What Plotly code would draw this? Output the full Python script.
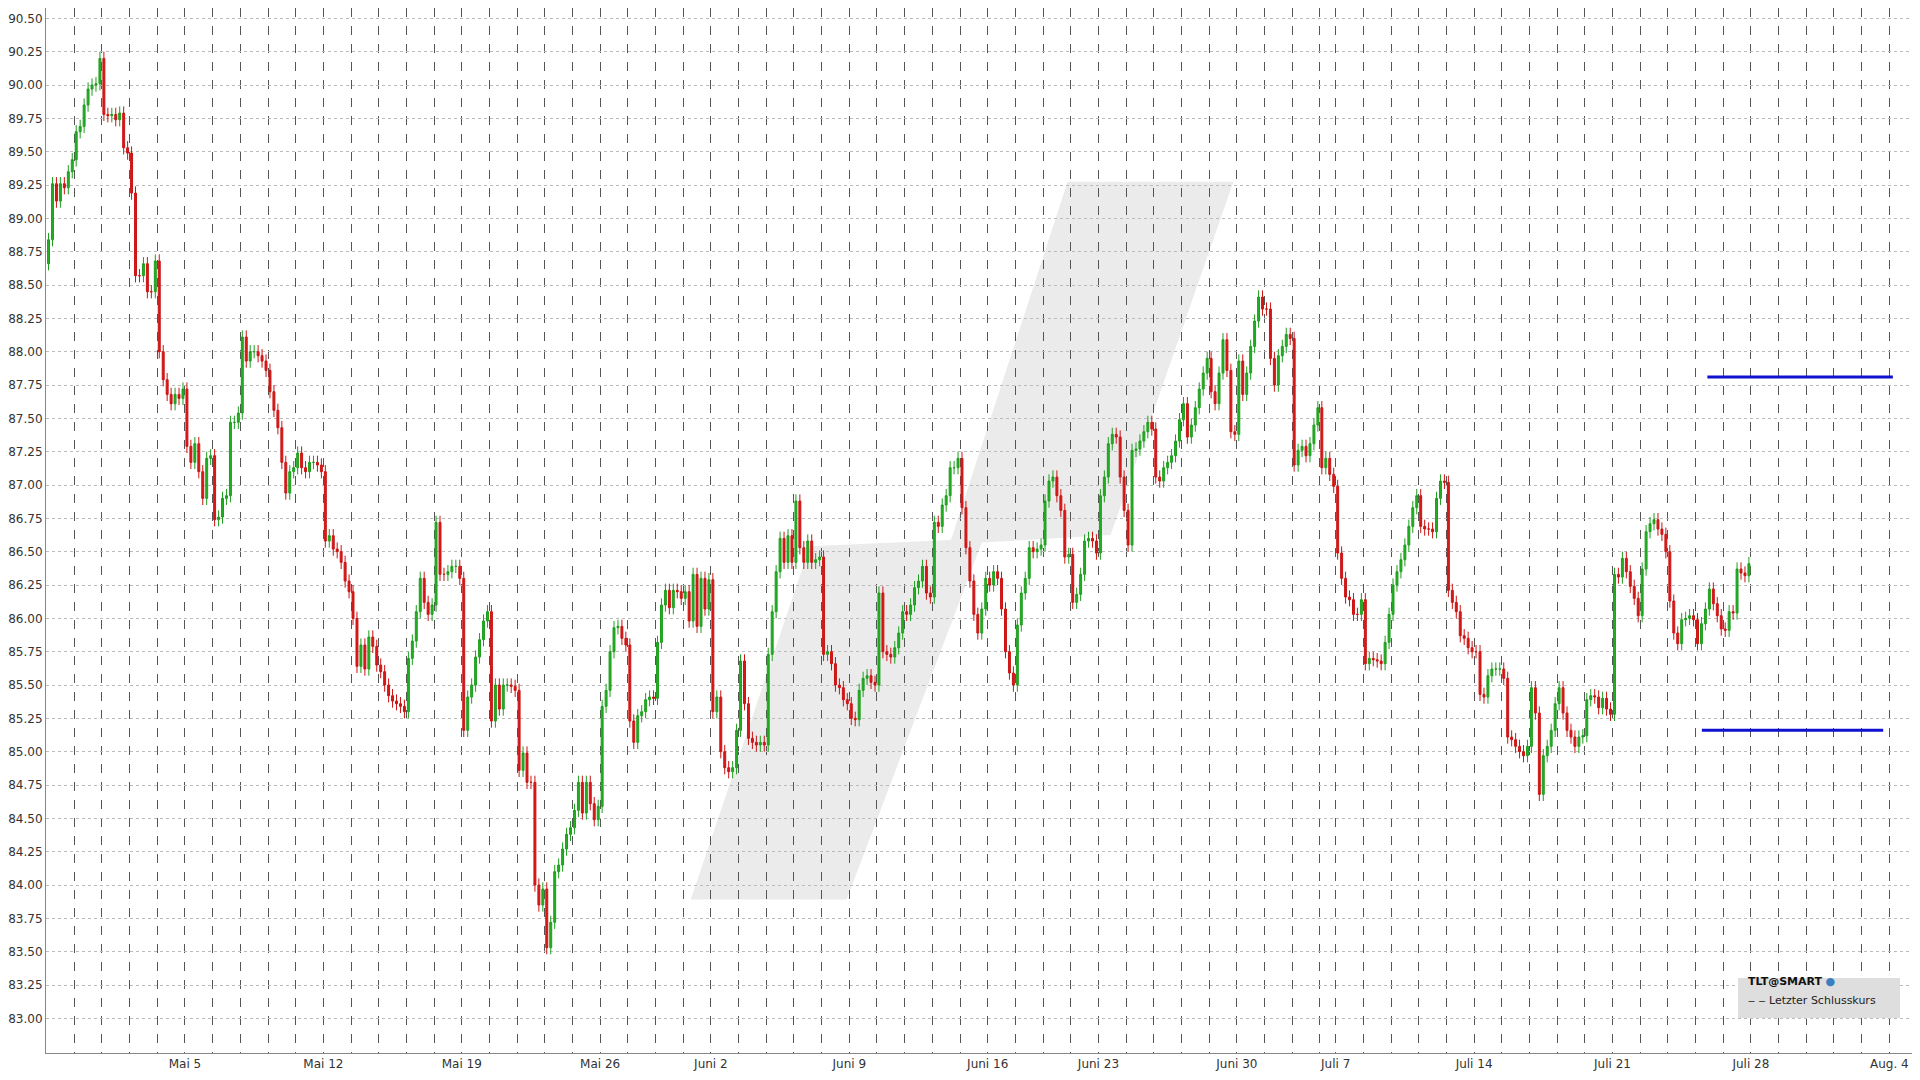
import plotly.graph_objects as go

# trading days shown (hourly bars), closing price of each bar
days = ['Apr 28', 'Apr 29', 'Apr 30', 'Mai 1', 'Mai 2',
        'Mai 5', 'Mai 6', 'Mai 7', 'Mai 8', 'Mai 9',
        'Mai 12', 'Mai 13', 'Mai 14', 'Mai 15', 'Mai 16',
        'Mai 19', 'Mai 20', 'Mai 21', 'Mai 22', 'Mai 23',
        'Mai 27', 'Mai 28', 'Mai 29', 'Mai 30',
        'Juni 2', 'Juni 3', 'Juni 4', 'Juni 5', 'Juni 6',
        'Juni 9', 'Juni 10', 'Juni 11', 'Juni 12', 'Juni 13',
        'Juni 16', 'Juni 17', 'Juni 18', 'Juni 20',
        'Juni 23', 'Juni 24', 'Juni 25', 'Juni 26', 'Juni 27',
        'Juni 30', 'Juli 1', 'Juli 2', 'Juli 3',
        'Juli 7', 'Juli 8', 'Juli 9', 'Juli 10', 'Juli 11',
        'Juli 14', 'Juli 15', 'Juli 16', 'Juli 17', 'Juli 18',
        'Juli 21', 'Juli 22', 'Juli 23', 'Juli 24', 'Juli 25']

closes = [
    [88.84, 89.26, 89.13, 89.26, 89.23, 89.35, 89.44],
    [89.65, 89.69, 89.85, 89.97, 90.00, 90.01, 90.20],
    [89.78, 89.77, 89.78, 89.74, 89.79, 89.53, 89.49],
    [89.19, 88.57, 88.57, 88.66, 88.45, 88.45, 88.68],
    [88.00, 87.79, 87.68, 87.61, 87.68, 87.65, 87.72],
    [87.29, 87.17, 87.31, 87.10, 86.90, 87.20, 87.22],
    [86.74, 86.76, 86.90, 86.92, 87.47, 87.47, 87.54],
    [88.11, 87.93, 88.00, 88.00, 87.97, 87.93, 87.86],
    [87.70, 87.56, 87.43, 87.17, 86.94, 87.10, 87.13],
    [87.24, 87.13, 87.10, 87.17, 87.17, 87.15, 87.10],
    [86.58, 86.62, 86.52, 86.50, 86.42, 86.28, 86.20],
    [86.00, 85.64, 85.80, 85.62, 85.86, 85.79, 85.65],
    [85.60, 85.50, 85.42, 85.38, 85.36, 85.34, 85.30],
    [85.70, 85.83, 86.05, 86.30, 86.12, 86.03, 86.10],
    [86.72, 86.33, 86.33, 86.35, 86.39, 86.39, 86.30],
    [85.16, 85.41, 85.50, 85.71, 85.84, 85.98, 86.05],
    [85.23, 85.50, 85.32, 85.50, 85.50, 85.49, 85.46],
    [84.86, 84.99, 84.77, 84.77, 84.00, 83.85, 83.97],
    [83.53, 83.72, 84.10, 84.15, 84.27, 84.38, 84.43],
    [84.56, 84.77, 84.54, 84.77, 84.61, 84.49, 84.59],
    [85.34, 85.46, 85.75, 85.93, 85.94, 85.85, 85.80],
    [85.23, 85.07, 85.27, 85.30, 85.39, 85.41, 85.40],
    [85.82, 86.10, 86.21, 86.08, 86.21, 86.20, 86.15],
    [86.20, 85.98, 86.33, 85.94, 86.30, 86.07, 86.29],
    [85.30, 85.41, 85.00, 84.88, 84.85, 84.88, 85.16],
    [85.68, 85.36, 85.10, 85.07, 85.05, 85.07, 85.05],
    [85.73, 86.05, 86.35, 86.60, 86.42, 86.62, 86.42],
    [86.88, 86.53, 86.42, 86.58, 86.42, 86.44, 86.46],
    [85.73, 85.75, 85.66, 85.50, 85.48, 85.39, 85.36],
    [85.25, 85.24, 85.46, 85.55, 85.57, 85.52, 85.50],
    [86.19, 85.75, 85.73, 85.71, 85.78, 85.89, 86.05],
    [86.03, 86.10, 86.23, 86.28, 86.39, 86.19, 86.16],
    [86.72, 86.69, 86.85, 86.92, 87.13, 87.13, 87.20],
    [86.83, 86.53, 86.28, 86.03, 85.89, 86.07, 86.30],
    [86.25, 86.35, 86.30, 86.07, 85.75, 85.59, 85.50],
    [85.95, 86.19, 86.30, 86.53, 86.50, 86.52, 86.55],
    [86.88, 87.03, 87.06, 86.92, 86.81, 86.46, 86.48],
    [86.12, 86.18, 86.33, 86.58, 86.60, 86.58, 86.49],
    [86.92, 87.06, 87.31, 87.38, 87.36, 87.06, 86.81],
    [86.55, 87.26, 87.27, 87.33, 87.40, 87.47, 87.42],
    [87.06, 87.03, 87.13, 87.17, 87.22, 87.33, 87.49],
    [87.61, 87.36, 87.45, 87.58, 87.72, 87.84, 87.95],
    [87.70, 87.61, 87.84, 88.09, 87.86, 87.40, 87.38],
    [87.93, 87.68, 87.84, 88.04, 88.23, 88.41, 88.32],
    [88.32, 87.95, 87.75, 87.97, 88.04, 88.13, 88.10],
    [87.15, 87.26, 87.29, 87.22, 87.31, 87.45, 87.58],
    [87.13, 87.20, 87.08, 86.99],
    [86.49, 86.30, 86.16, 86.14, 86.03, 86.03, 86.14],
    [85.66, 85.70, 85.69, 85.68, 85.66, 85.82, 86.03],
    [86.25, 86.35, 86.44, 86.55, 86.69, 86.83, 86.92],
    [86.69, 86.67, 86.67, 86.65, 86.90, 87.03, 87.02],
    [86.21, 86.12, 86.05, 85.87, 85.85, 85.78, 85.75],
    [85.75, 85.43, 85.41, 85.57, 85.62, 85.62, 85.62],
    [85.55, 85.11, 85.09, 85.04, 85.00, 84.97, 85.04],
    [85.48, 85.29, 84.68, 84.97, 85.04, 85.16, 85.36],
    [85.48, 85.29, 85.16, 85.11, 85.04, 85.11, 85.12],
    [85.39, 85.42, 85.41, 85.33, 85.40, 85.32, 85.28],
    [86.33, 86.31, 86.45, 86.35, 86.24, 86.15, 86.02],
    [86.37, 86.65, 86.71, 86.74, 86.67, 86.63, 86.50],
    [86.13, 85.89, 85.81, 85.99, 86.00, 86.02, 85.99],
    [85.81, 85.96, 86.07, 86.22, 86.11, 86.02, 85.92],
    [85.91, 86.05, 86.04, 86.37, 86.34, 86.32, 86.41],
]
first_open = 88.66
bars_per_day = 7

week_labels = ['Mai 5', 'Mai 12', 'Mai 19', 'Mai 26', 'Juni 2', 'Juni 9', 'Juni 16',
               'Juni 23', 'Juni 30', 'Juli 7', 'Juli 14', 'Juli 21', 'Juli 28', 'Aug. 4']
week_first_day = ['Mai 5', 'Mai 12', 'Mai 19', 'Mai 27', 'Juni 2', 'Juni 9', 'Juni 16',
                  'Juni 23', 'Juni 30', 'Juli 7', 'Juli 14', 'Juli 21', None, None]
future_days = 7  # empty weekdays after the last bar (Juli 28 ... Aug. 5)

# support / resistance levels (blue)
levels = [87.81, 85.16]
level_start = [60.0, 59.8]
level_end = [66.7, 66.35]

# build bar positions (in day units)
x, o, h, l, c = [], [], [], [], []
day_start = []
pos = 0.0
prev = first_open
for d, cl in zip(days, closes):
    day_start.append(pos)
    for i, v in enumerate(cl):
        x.append(pos + (i + 0.5) / bars_per_day)
        o.append(prev)
        c.append(v)
        h.append(max(prev, v) + 0.05)
        l.append(min(prev, v) - 0.05)
        prev = v
    pos += len(cl) / bars_per_day
last_pos = pos
for k in range(future_days):
    day_start.append(last_pos + k)

start_of = dict(zip(days, day_start))
week_pos = []
for lab, d in zip(week_labels, week_first_day):
    if d is None:
        week_pos.append(last_pos + (0 if lab == 'Juli 28' else 5))
    else:
        week_pos.append(start_of[d])

tickvals = list(day_start[1:])
ticktext = []
for tv in tickvals:
    txt = ''
    for wp, lab in zip(week_pos, week_labels):
        if abs(wp - tv) < 1e-6:
            txt = lab
    ticktext.append(txt)

fig = go.Figure()

# background logo watermark (points in reference pixels, 1565-wide picture)
def px(xx, yy):
    return (xx - 37.5) / 1523, 1 - (yy - 6.5) / 851.5

pts = [(563, 733), (660, 445), (775, 440), (870, 148), (1005, 148),
       (905, 436), (800, 442), (690, 733)]
path = 'M ' + ' L '.join(f'{px(a, b)[0]:.4f},{px(a, b)[1]:.4f}' for a, b in pts) + ' Z'
fig.add_shape(type='path', path=path, xref='paper', yref='paper',
              fillcolor='#ebebeb', line=dict(width=0), layer='below')

fig.add_trace(go.Candlestick(
    x=x, open=o, high=h, low=l, close=c,
    increasing=dict(line=dict(color='#1e9e1e', width=1), fillcolor='#22b022'),
    decreasing=dict(line=dict(color='#cc1414', width=1), fillcolor='#d81818'),
    whiskerwidth=0, showlegend=False,
))

for lv, s, e in zip(levels, level_start, level_end):
    fig.add_trace(go.Scatter(x=[s, e], y=[lv, lv], mode='lines',
                             line=dict(color='#1010d0', width=3), showlegend=False,
                             hoverinfo='skip'))

fig.update_layout(
    width=1920, height=1080,
    margin=dict(l=38, r=13, t=0, b=35),
    plot_bgcolor='white', paper_bgcolor='white',
    font=dict(family='DejaVu Sans', size=12, color='#333333'),
    xaxis=dict(range=[-0.02, 67.5], tickvals=tickvals, ticktext=ticktext,
               showgrid=True, gridcolor='#555555', griddash='dash', gridwidth=1,
               rangeslider=dict(visible=False), showline=True, linecolor='#888888',
               mirror=True, ticks='', zeroline=False, automargin=False),
    yaxis=dict(range=[82.74, 90.578], tickvals=[83 + 0.25 * k for k in range(31)],
               tickformat='.2f', showgrid=True, gridcolor='#bbbbbb', griddash='dot',
               showline=True, linecolor='#888888', mirror=True, ticks='', zeroline=False,
               automargin=False),
)

# legend box (screen pixels of the plot area: x 46..1915, y 8..1053)
def ppx(sx):
    return (sx - 46) / 1869

def ppy(sy):
    return 1 - (sy - 8) / 1045

fig.add_shape(type='rect', xref='paper', yref='paper',
              x0=ppx(1738), x1=ppx(1900), y0=ppy(1018), y1=ppy(978),
              fillcolor='#dedede', line=dict(width=0))
fig.add_annotation(xref='paper', yref='paper', x=ppx(1746), y=ppy(990),
                   text='<b>TLT@SMART</b> <span style="color:#3a7fc0">●</span>',
                   showarrow=False, xanchor='left', font=dict(size=11, color='#111111'))
fig.add_annotation(xref='paper', yref='paper', x=ppx(1746), y=ppy(1009),
                   text='‒ ‒ Letzter Schlusskurs', showarrow=False, xanchor='left',
                   font=dict(size=11, color='#222222'))

fig.write_html('out.html')
